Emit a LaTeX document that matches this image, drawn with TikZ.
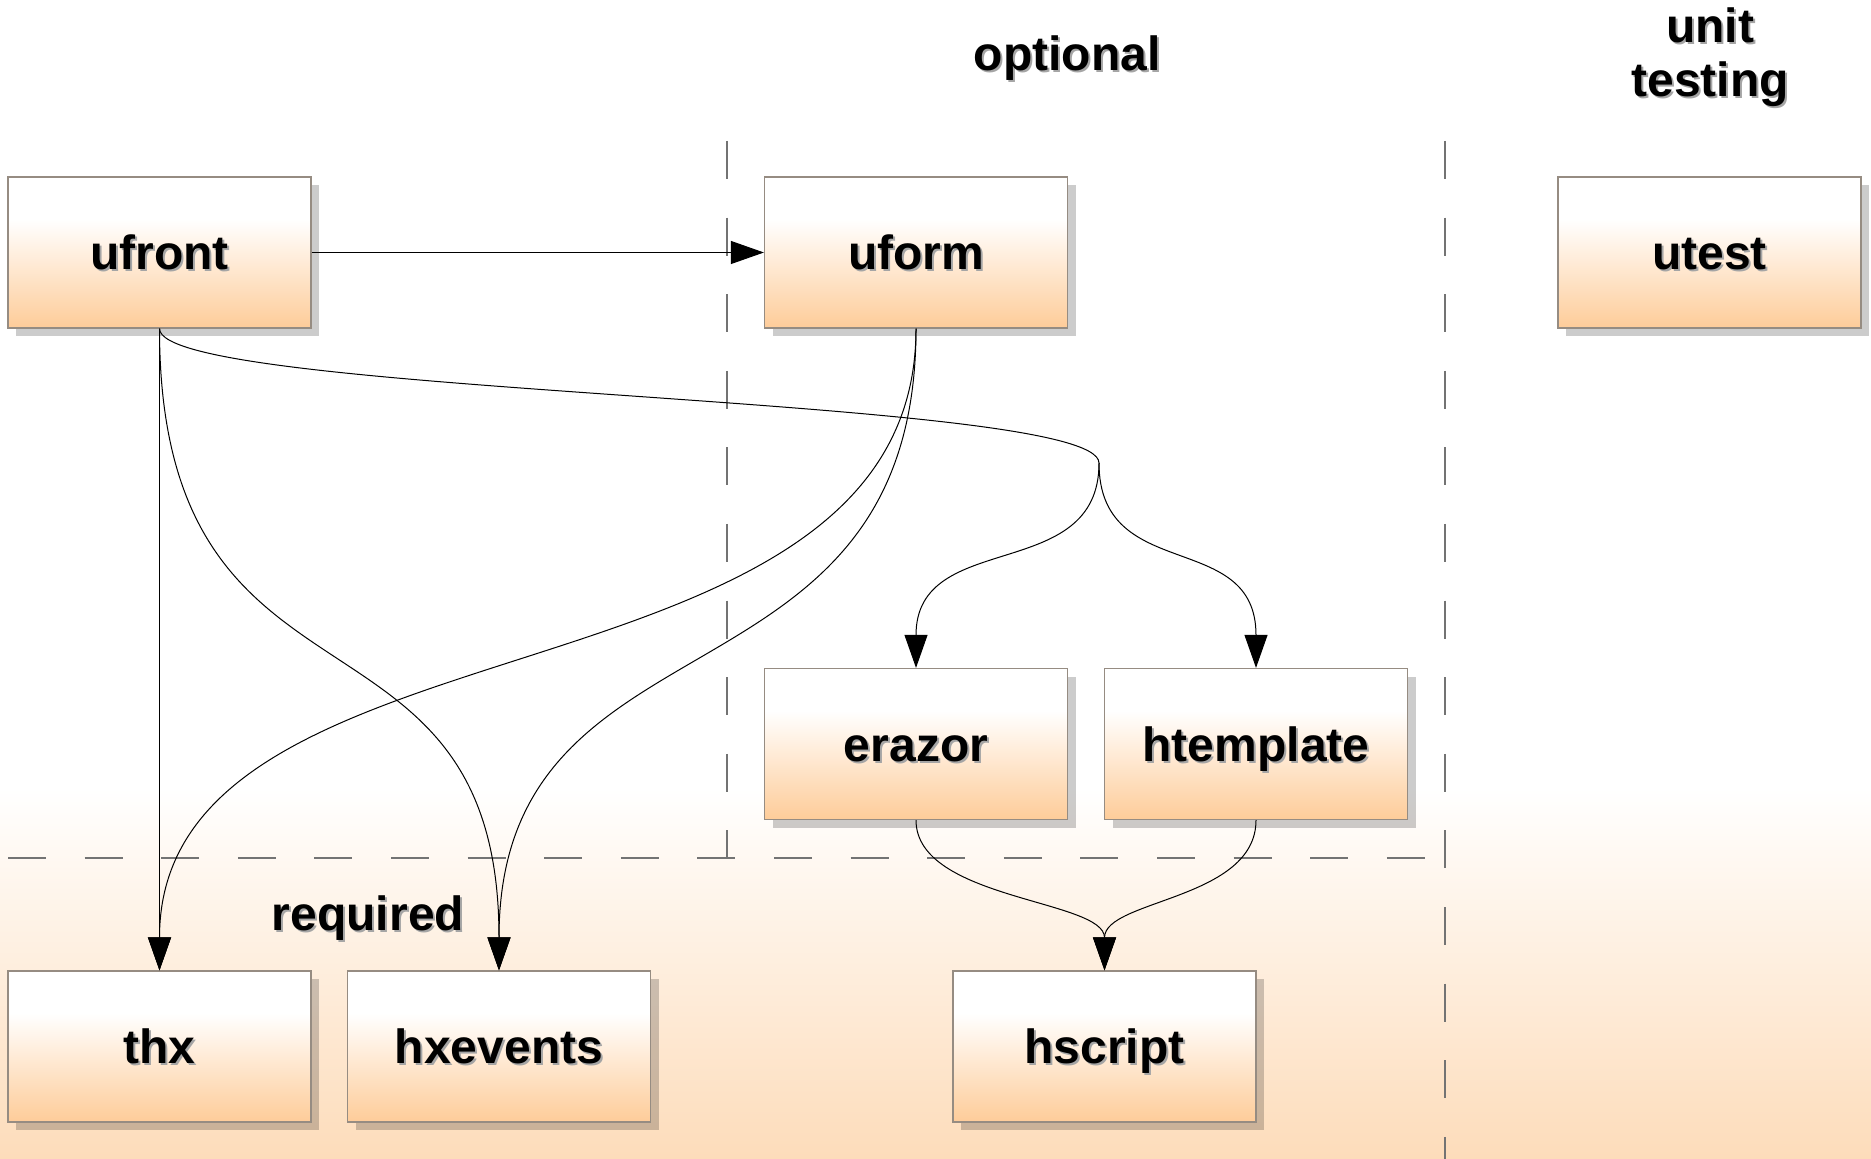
\documentclass[tikz,border=0pt]{standalone}
\usepackage{fontspec}
\setmainfont{Liberation Sans}
\usetikzlibrary{arrows.meta,shadows}
\definecolor{peach}{RGB}{254,204,153}
\definecolor{bgbot}{RGB}{253,220,186}
\definecolor{boxborder}{RGB}{150,140,130}
\definecolor{dashgray}{RGB}{115,115,115}
\definecolor{txtshadow}{RGB}{165,165,165}
\pgfdeclareverticalshading{boxshade}{100bp}{color(0bp)=(peach); color(25bp)=(peach); color(61bp)=(white); color(100bp)=(white)}
\pgfdeclareverticalshading{bgshade}{100bp}{color(0bp)=(bgbot); color(25bp)=(bgbot); color(41bp)=(white); color(100bp)=(white)}
\newcommand\shtxt[1]{\rlap{\kern1pt\raisebox{-1pt}[0pt][0pt]{\color{txtshadow}#1}}#1}
\tikzset{
  lblfont/.style={font=\fontsize{24pt}{27pt}\selectfont\bfseries},
  modbox/.style={lblfont, draw=boxborder, line width=0.6pt, shade, shading=boxshade,
    minimum width=151.5pt, minimum height=75.5pt, inner sep=0pt,
    text height=17pt, text depth=0pt,
    drop shadow={shadow xshift=4pt, shadow yshift=-4pt, opacity=0.2, fill=black}},
  freelbl/.style={lblfont, inner sep=0pt, anchor=base},
  conn/.style={draw=black, line width=0.5pt, -{Triangle[length=16.5pt,width=11.5pt]}},
  plainconn/.style={draw=black, line width=0.5pt},
  sepline/.style={draw=dashgray, line width=0.8pt, dash pattern=on 19pt off 19.3pt}
}
\begin{document}
\begin{tikzpicture}[x=0.5pt,y=-0.5pt]
\useasboundingbox (0,0) rectangle (1871,1159);
\shade[shading=bgshade] (0,0) rectangle (1871,1159);

% separators
\coordinate (v1t) at (727,141);
\coordinate (v1b) at (727,858);
\coordinate (v2t) at (1445,141);
\coordinate (v2b) at (1445,1159);
\coordinate (hl) at (8,858);
\coordinate (hr) at (1445,858);
\draw[sepline] (v1t) -- (v1b);
\draw[sepline] (v2t) -- (v2b);
\draw[sepline] (hl) -- (hr);

% region labels
\node[freelbl] (optional) at (1067,71) {\shtxt{optional}};
\node[freelbl] (unit) at (1710,43) {\shtxt{unit}};
\node[freelbl] (testing) at (1710,97) {\shtxt{testing}};
\node[freelbl] (required) at (368,930) {\shtxt{required}};

% boxes
\node[modbox] (ufront) at (159.5,252.5) {\shtxt{ufront}};
\node[modbox] (uform) at (916,252.5) {\shtxt{uform}};
\node[modbox] (utest) at (1709.5,252.5) {\shtxt{utest}};
\node[modbox] (erazor) at (916,744) {\shtxt{erazor}};
\node[modbox] (htemplate) at (1256,744) {\shtxt{htemplate}};
\node[modbox] (thx) at (159.5,1046.5) {\shtxt{thx}};
\node[modbox] (hxevents) at (499,1046.5) {\shtxt{hxevents}};
\node[modbox] (hscript) at (1104.5,1046.5) {\shtxt{hscript}};

% connectors
\draw[conn] (ufront.east) -- (uform.west);
\draw[conn] (ufront.south) -- (thx.north);
\draw[conn] (ufront.south) .. controls +(0,412) and +(0,-391) .. (hxevents.north);
\draw[conn] (uform.south) .. controls +(0,392) and +(0,-371) .. (thx.north);
\draw[conn] (uform.south) .. controls +(0,392) and +(0,-371) .. (hxevents.north);

\coordinate (br) at (1099,463);
\draw[plainconn] (ufront.south) .. controls +(0,68) and +(0,-68) .. (br);
\draw[conn] (br) .. controls +(0,122) and +(0,-140) .. (erazor.north);
\draw[conn] (br) .. controls +(0,122) and +(0,-140) .. (htemplate.north);

\draw[conn] (erazor.south) .. controls +(0,80) and +(0,-71) .. (hscript.north);
\draw[conn] (htemplate.south) .. controls +(0,80) and +(0,-71) .. (hscript.north);
\end{tikzpicture}
\end{document}
